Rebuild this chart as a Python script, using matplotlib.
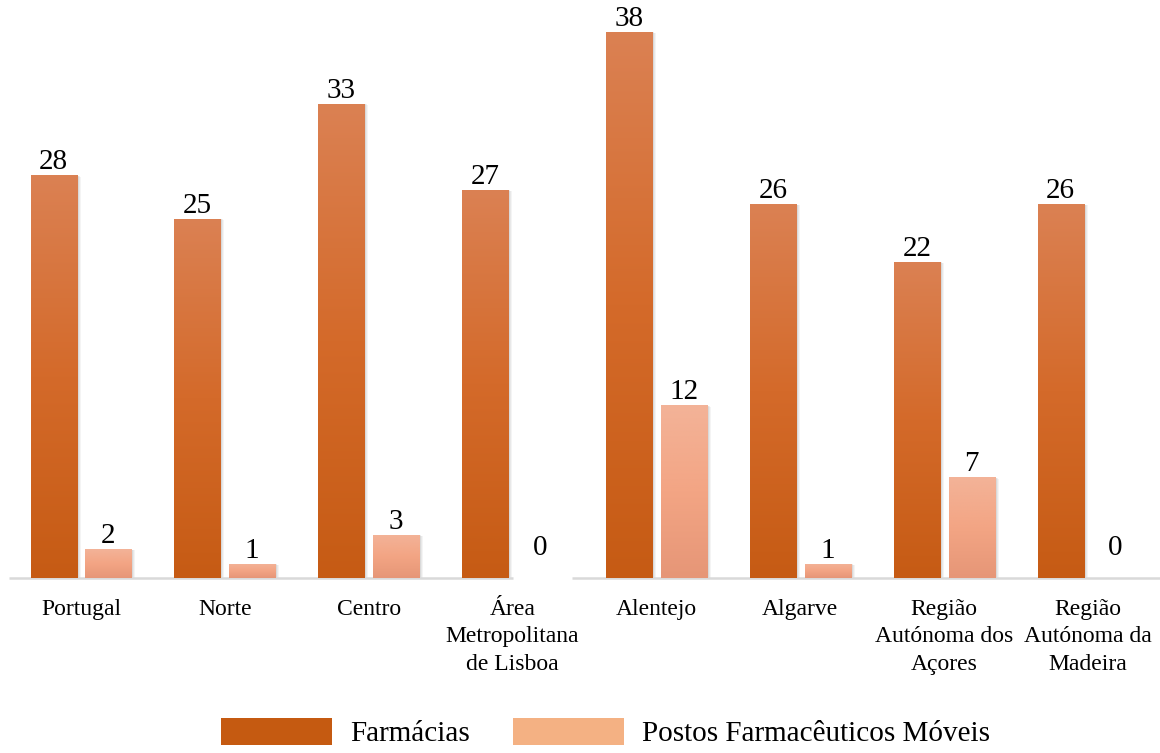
import numpy as np
import matplotlib
matplotlib.use("Agg")
import matplotlib.pyplot as plt
from matplotlib.patches import Patch, Rectangle
from matplotlib.colors import LinearSegmentedColormap

categories = ["Portugal", "Norte", "Centro", "Área\nMetropolitana\nde Lisboa",
              "Alentejo", "Algarve", "Região\nAutónoma dos\nAçores",
              "Região\nAutónoma da\nMadeira"]
farmacias = [28, 25, 33, 27, 38, 26, 22, 26]
postos = [2, 1, 3, 0, 12, 1, 7, 0]
series_names = ["Farmácias", "Postos Farmacêuticos Móveis"]

plt.rcParams['font.family'] = ['Liberation Serif', 'DejaVu Serif']

W, H = 1160, 753
fig = plt.figure(figsize=(W / 100, H / 100), dpi=100)
ax_left, ax_right, ax_bottom, ax_top = 9, 1160, 578, 0
ax = fig.add_axes([ax_left / W, (H - ax_bottom) / H, (ax_right - ax_left) / W, (ax_bottom - ax_top) / H])
ax.set_xlim(-0.5, 7.5)
ax.set_ylim(0, 40.2)
for s in ax.spines.values():
    s.set_visible(False)
ax.tick_params(axis='both', length=0)
ax.set_yticks([])

x = np.arange(len(categories))
off = 0.19
width = 0.32

cmap_f = LinearSegmentedColormap.from_list("f", ["#C65B14", "#D46A2A", "#DB8153"])
cmap_p = LinearSegmentedColormap.from_list("p", ["#E69677", "#F3A584", "#F3B398"])

px = 1.0 / 143.9  # one pixel in x data units
py = 40.2 / 578.0  # one pixel in y data units

def draw_bars(xpos, vals, cmap, z):
    bars = ax.bar(xpos, vals, width=width, color='none', edgecolor='none', zorder=z)
    grad = np.linspace(0, 1, 256).reshape(-1, 1)
    for b, v in zip(bars, vals):
        if v <= 0:
            continue
        x0 = b.get_x()
        w = b.get_width()
        # soft shadow
        for k, a in ((4, 0.08), (3, 0.10), (2, 0.14)):
            ax.add_patch(Rectangle((x0 + k * px, 0), w, v - k * py * 0.3,
                                   facecolor='#7f7f7f', alpha=a, edgecolor='none', zorder=z - 1))
        im = ax.imshow(grad, cmap=cmap, origin='lower', aspect='auto',
                       extent=(x0, x0 + w, 0, v), zorder=z)
        im.set_clip_path(b)
    return bars

draw_bars(x - off, farmacias, cmap_f, 3)
draw_bars(x + off, postos, cmap_p, 3)

# axis line (with the break seen in the reference)
ax.plot([-0.5, 3.0], [0, 0], color='#D9D9D9', lw=1.8, zorder=2, solid_capstyle='butt', clip_on=False)
ax.plot([3.41, 7.5], [0, 0], color='#D9D9D9', lw=1.8, zorder=2, solid_capstyle='butt', clip_on=False)

for xi, v in zip(x - off, farmacias):
    ax.annotate(str(v), (xi, v), xytext=(0, 0), textcoords='offset points',
                ha='center', va='bottom', fontsize=21, color='black', zorder=5, annotation_clip=False)
for xi, v in zip(x + off, postos):
    dy = 0 if v > 0 else 12
    ax.annotate(str(v), (xi, v), xytext=(0, dy), textcoords='offset points',
                ha='center', va='bottom', fontsize=21, color='black', zorder=5, annotation_clip=False)

ax.set_xticks(x)
ax.set_xticklabels(categories, fontsize=17, linespacing=1.4)
ax.tick_params(axis='x', pad=15)

handles = [Patch(facecolor='#C55A11', edgecolor='none'),
           Patch(facecolor='#F4B183', edgecolor='none')]
fig.legend(handles, series_names, loc='center', bbox_to_anchor=(0.522, 0.027),
           bbox_transform=fig.transFigure, ncol=2, frameon=False, fontsize=21,
           handlelength=3.8, handleheight=1.05, handletextpad=0.6, columnspacing=1.5,
           borderpad=0, borderaxespad=0)

fig.savefig("out.png", dpi=100)
